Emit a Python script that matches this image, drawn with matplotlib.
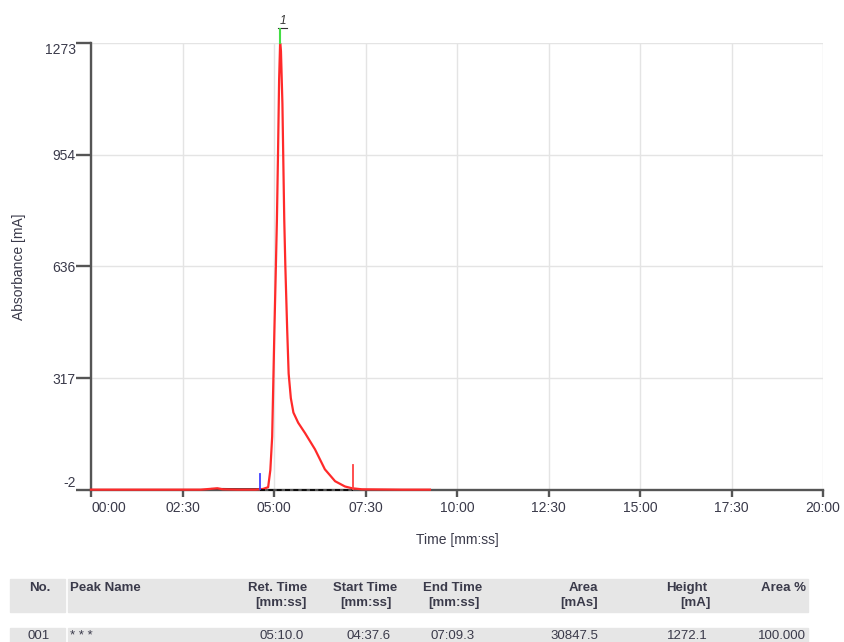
import matplotlib.pyplot as plt
from matplotlib.patches import Rectangle

plt.rcParams['font.family'] = ['Liberation Sans', 'DejaVu Sans']
plt.rcParams['axes.unicode_minus'] = False

# chromatogram trace (time in minutes, absorbance in mA)
time_min = [0.0, 1.0, 2.0, 3.0, 3.35, 3.45, 3.6, 4.0, 4.5, 4.70, 4.84, 4.90,
            4.95, 4.98, 5.01, 5.05, 5.08, 5.11, 5.14, 5.167, 5.19, 5.23, 5.26,
            5.28, 5.31, 5.36, 5.40, 5.46, 5.53, 5.66, 5.85, 6.12, 6.39, 6.67,
            6.94, 7.13, 7.4, 8.5, 9.26]
absorb = [-1, -1, -1, -1, 2, 3, 0, -1, -1, 1, 6, 55,
          150, 300, 450, 630, 770, 960, 1170, 1272.1, 1250, 1100, 900,
          770, 636, 456, 330, 260, 219, 190, 160, 114, 57, 23,
          8, 3, 0, -1, -1]

# second trace segment drawn in black before the peak
black_t = [3.3, 3.6, 4.0, 4.4, 4.62]
black_y = [1.5, 1.5, 1.0, 1.0, 1.0]

y_ticks = [-2, 317, 636, 954, 1273]
x_ticks = [0, 2.5, 5, 7.5, 10, 12.5, 15, 17.5, 20]
x_labels = ['00:00', '02:30', '05:00', '07:30', '10:00', '12:30', '15:00', '17:30', '20:00']

# peak table
headers1 = ['No.', 'Peak Name', 'Ret. Time', 'Start Time', 'End Time', 'Area', 'Height', 'Area %']
headers2 = ['', '', '[mm:ss]', '[mm:ss]', '[mm:ss]', '[mAs]', '[mA]', '']
row1 = ['001', '* * *', '05:10.0', '04:37.6', '07:09.3', '30847.5', '1272.1', '100.000']

peak_ret = 5 + 10.0 / 60
peak_start = 4 + 37.6 / 60
peak_end = 7 + 9.3 / 60
peak_height = 1272.1

W, H = 844, 642
fig = plt.figure(figsize=(W / 100, H / 100), dpi=100)
ax = fig.add_axes([91 / W, 1 - 490 / H, (823 - 91) / W, (490 - 43) / H])

axis_col = '#555555'
text_col = '#3a3a4a'

ax.plot(time_min, absorb, color='#ff2a2a', lw=1.6, zorder=4, clip_on=False)
ax.plot(black_t, black_y, color='#333333', lw=1.2, zorder=3)
ax.plot([peak_start, peak_end], [-2, -2], color='black', lw=1.2,
        dashes=(3, 2), zorder=5, clip_on=False)

# peak delimiters and label
ax.plot([peak_start, peak_start], [-2, 45], color='#4040ff', lw=1.3, zorder=5)
ax.plot([peak_end, peak_end], [-2, 70], color='#ff4040', lw=1.3, zorder=5)
ax.plot([peak_ret, peak_ret], [1273, 1312], color='#44dd44', lw=1.5,
        clip_on=False, zorder=5)
ax.text(peak_ret + 0.07, 1318, '1', fontsize=8.5, style='italic', color='#333333',
        ha='center', va='bottom')
ax.plot([peak_ret - 0.05, peak_ret + 0.2], [1316, 1316], color='#333333',
        lw=0.8, clip_on=False)

ax.set_xlim(0, 20)
ax.set_ylim(-2, 1273)
ax.set_xticks(x_ticks)
ax.set_xticklabels(x_labels)
ax.set_yticks(y_ticks)
ax.grid(True, color='#e4e4e4', lw=1)
ax.set_axisbelow(True)

for s in ['top', 'right']:
    ax.spines[s].set_visible(False)
for s in ['left', 'bottom']:
    ax.spines[s].set_color(axis_col)
    ax.spines[s].set_linewidth(1.7)

ax.tick_params(axis='both', colors=axis_col, width=1.7, labelsize=10,
               labelcolor=text_col)
ax.tick_params(axis='x', length=5, pad=3)
ax.tick_params(axis='y', length=10.5, pad=0.5)

# end labels kept inside the axis range
xl = ax.get_xticklabels()
xl[0].set_horizontalalignment('left')
yl = ax.get_yticklabels()
yl[0].set_verticalalignment('bottom')
yl[-1].set_verticalalignment('top')

ax.set_xlabel('Time [mm:ss]', fontsize=10, color=text_col)
ax.set_ylabel('Absorbance [mA]', fontsize=10, color=text_col)
ax.xaxis.set_label_coords(0.5, (490 - 533) / 447)
ax.yaxis.set_label_coords((26 - 91) / 732, 0.50)

# peak table below the plot
for y0, y1 in [(579, 612), (628, 642)]:
    fig.patches.append(Rectangle((10 / W, 1 - y1 / H), (65 - 10) / W, (y1 - y0) / H,
                                 transform=fig.transFigure, color='#e6e6e6', zorder=0))
    fig.patches.append(Rectangle((68 / W, 1 - y1 / H), (808 - 68) / W, (y1 - y0) / H,
                                 transform=fig.transFigure, color='#e6e6e6', zorder=0))

hdr_x = [50, 70, 307, 397, 482, 598, 707, 806]
hdr2_x = [50, 70, 307, 392, 480, 598, 711, 806]
row_x = [50, 70, 304, 391, 475, 598, 708, 806]
aligns = ['right', 'left', 'right', 'right', 'right', 'right', 'right', 'right']

for h1, h2, x1, x2, a in zip(headers1, headers2, hdr_x, hdr2_x, aligns):
    fig.text(x1 / W, 1 - 588 / H, h1, ha=a, va='center', fontsize=9.5,
             fontweight='bold', color=text_col)
    if h2:
        fig.text(x2 / W, 1 - 603 / H, h2, ha=a, va='center', fontsize=9.5,
                 fontweight='bold', color=text_col)

for val, x, a in zip(row1, row_x, aligns):
    fig.text(x / W, 1 - 636 / H, val, ha=a, va='center', fontsize=9.5,
             color=text_col)

fig.savefig('out.png', dpi=100)
